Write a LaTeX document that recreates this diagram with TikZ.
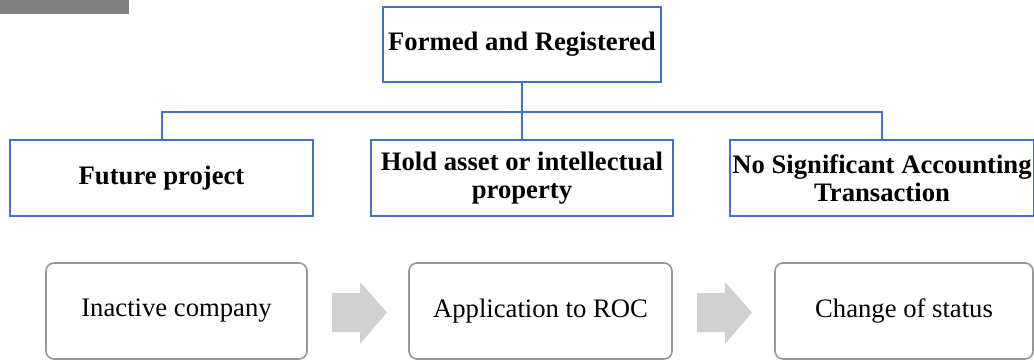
\documentclass[tikz,border=0pt]{standalone}
\usepackage{fontspec}
\setmainfont{Liberation Serif}
\definecolor{boxblue}{RGB}{68,114,196}
\definecolor{arrowgray}{RGB}{208,208,208}
\definecolor{edgegray}{RGB}{150,150,150}
\definecolor{tabgray}{RGB}{128,128,128}
\begin{document}
\begin{tikzpicture}[x=0.75pt,y=-0.75pt,
  kindbox/.style={draw=boxblue,line width=1.5pt,align=center,
    font=\fontsize{20}{21}\selectfont\bfseries,
    minimum width=227pt,minimum height=57pt,inner sep=2pt},
  stepnode/.style={draw=edgegray,line width=1.2pt,rounded corners=6pt,
    minimum height=72pt,font=\fontsize{20}{21}\selectfont},
  link/.style={draw=boxblue,line width=1.5pt}]
\useasboundingbox (0,0) rectangle (1034,360);
\fill[tabgray] (0,0) rectangle (129,14.5);
% top of the tree
\node[kindbox,minimum width=208.5pt,minimum height=56.25pt] (formed) at (522,44.5) {Formed and Registered};
\node[kindbox] (future) at (161.5,178) {Future project};
\node[kindbox] (asset) at (522,178) {Hold asset or intellectual\\property};
\node[kindbox] (nosig) at (882,178) {No Significant Accounting\\Transaction};
\coordinate (bar) at (522,112);
\draw[link] (formed.south) -- (asset.north);
\draw[link] (future.north) |- (bar) -| (nosig.north);
% steps
\node[stepnode,minimum width=195.75pt] (inactive) at (176.5,311) {Inactive company};
\node[stepnode,minimum width=197.25pt] (roc) at (540.5,311) {Application to ROC};
\node[stepnode,minimum width=193.5pt] (status) at (904,311) {Change of status};
\fill[arrowgray] (332,293) -- (360,293) -- (360,282) -- (387,312.5) -- (360,344) -- (360,332) -- (332,332) -- cycle;
\fill[arrowgray] (697,293) -- (725,293) -- (725,282) -- (752,312.5) -- (725,344) -- (725,332) -- (697,332) -- cycle;
\end{tikzpicture}
\end{document}
